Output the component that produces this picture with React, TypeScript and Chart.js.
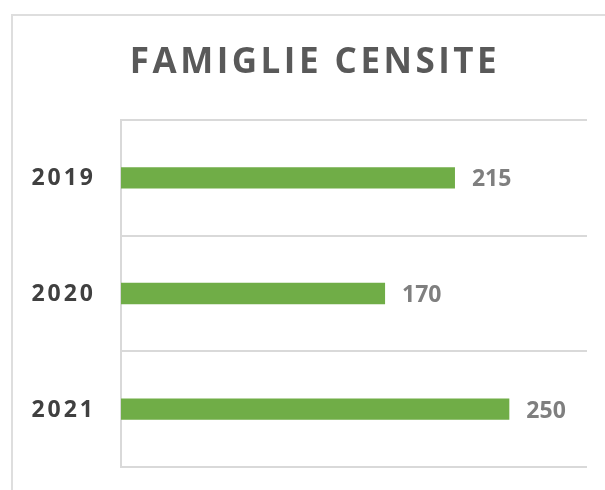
import React, { useEffect, useRef } from "react";
import { Chart, registerables } from "chart.js";

Chart.register(...registerables);

const TITLE = "FAMIGLIE CENSITE";
const categories = ["2019", "2020", "2021"];
const values = [215, 170, 250];
const xMax = 300;

const FONT = "'Open Sans', 'Noto Sans', sans-serif";

const framePlugin = {
  id: "frame",
  beforeDraw(chart: any) {
    const ctx = chart.ctx;
    ctx.save();
    ctx.fillStyle = "#ffffff";
    ctx.fillRect(0, 0, chart.width, chart.height);
    ctx.strokeStyle = "#dedede";
    ctx.lineWidth = 2;
    ctx.beginPath();
    ctx.moveTo(12, chart.height + 2);
    ctx.lineTo(12, 15);
    ctx.lineTo(chart.width + 2, 15);
    ctx.stroke();
    ctx.restore();
  },
};

const titlePlugin = {
  id: "spacedTitle",
  afterDraw(chart: any) {
    const ctx = chart.ctx;
    ctx.save();
    (ctx as any).letterSpacing = "3.5px";
    ctx.font = `bold 35px ${FONT}`;
    ctx.fillStyle = "#595959";
    ctx.textAlign = "center";
    ctx.textBaseline = "middle";
    ctx.fillText(TITLE, 315, 63);
    ctx.restore();
  },
};

const labelPlugin = {
  id: "valueLabels",
  afterDatasetsDraw(chart: any) {
    const ctx = chart.ctx;
    const meta = chart.getDatasetMeta(0);
    ctx.save();
    ctx.font = `bold 23px ${FONT}`;
    ctx.fillStyle = "#7f7f7f";
    ctx.textAlign = "left";
    ctx.textBaseline = "middle";
    meta.data.forEach((bar: any, i: number) => {
      ctx.fillText(String(values[i]), bar.x + 17, bar.y + 2);
    });
    ctx.restore();
  },
};

const catLabelPlugin = {
  id: "catLabels",
  afterDraw(chart: any) {
    const ctx = chart.ctx;
    const y = chart.scales.y;
    ctx.save();
    (ctx as any).letterSpacing = "3px";
    ctx.font = `bold 23px ${FONT}`;
    ctx.fillStyle = "#404040";
    ctx.textAlign = "right";
    ctx.textBaseline = "middle";
    categories.forEach((c, i) => {
      ctx.fillText(c, 96, y.getPixelForValue(i) + 1);
    });
    ctx.restore();
  },
};

export default function App() {
  const ref = useRef<HTMLCanvasElement>(null);
  useEffect(() => {
    document.body.style.margin = "0";
    const chart = new Chart(ref.current!, {
      type: "bar",
      data: {
        labels: categories,
        datasets: [
          {
            data: values,
            backgroundColor: "#70AD47",
            borderWidth: 0,
            categoryPercentage: 1,
            barPercentage: 0.185,
          },
        ],
      },
      options: {
        indexAxis: "y",
        animation: false,
        responsive: false,
        maintainAspectRatio: false,
        layout: { padding: { top: 120, right: 18, bottom: 23, left: 0 } },
        plugins: {
          legend: { display: false },
          title: { display: false },
          tooltip: { enabled: false },
        },
        scales: {
          x: {
            display: false,
            min: 0,
            max: xMax,
          },
          y: {
            afterFit(scale: any) {
              scale.width = 121;
            },
            ticks: { display: false },
            grid: {
              color: "#d9d9d9",
              lineWidth: 2,
              drawTicks: false,
              offset: true,
            },
            border: { color: "#d9d9d9", width: 2 },
          },
        },
      },
      plugins: [framePlugin, titlePlugin, labelPlugin, catLabelPlugin],
    });
    return () => chart.destroy();
  }, []);
  return (
    <div style={{ width: 605, height: 490 }}>
      <canvas ref={ref} width={605} height={490} style={{ display: "block" }} />
    </div>
  );
}
